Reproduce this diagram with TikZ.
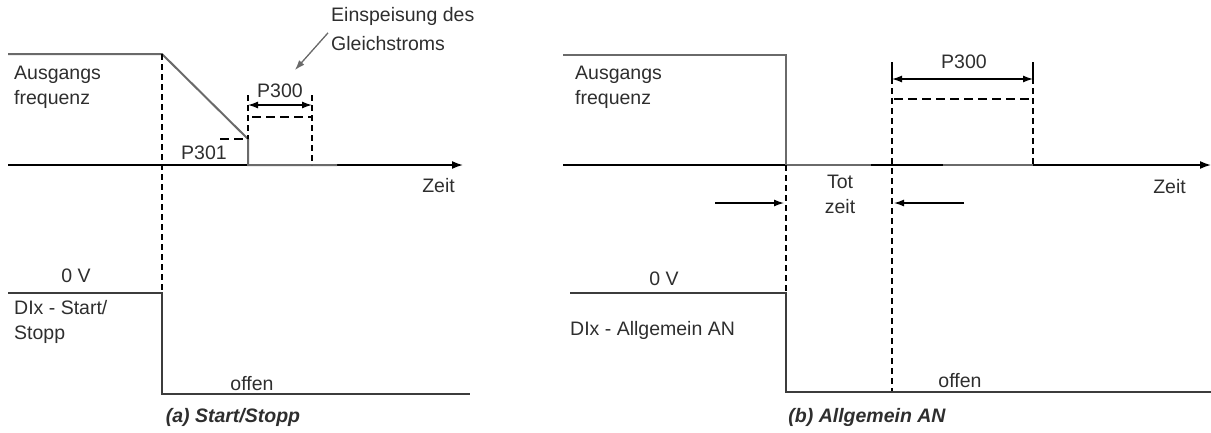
\documentclass[tikz,border=0pt]{standalone}
\usepackage{fontspec}
\setmainfont{Liberation Sans}
\usepackage{tikz}
\usetikzlibrary{arrows.meta}
\definecolor{wave}{HTML}{6A6A6A}
\definecolor{sig}{HTML}{3C3C3C}
\definecolor{char}{HTML}{2E2E2E}

\begin{document}
\begin{tikzpicture}[
  x=1pt, y=-1pt,
  font=\fontsize{19.5}{25}\selectfont,
  every node/.style={inner sep=0pt, color=char},
  lbl/.style={align=left, anchor=north west},
  axis/.style={-{Latex[length=11pt,width=8pt]}, line width=1.6pt, color=black},
  wav/.style={line width=2pt, color=wave},
  sigl/.style={line width=1.8pt, color=sig},
  guide/.style={dash pattern=on 6pt off 4pt, line width=1.2pt, color=black},
  dc/.style={dash pattern=on 9pt off 5pt, line width=2.6pt, color=black},
  dimarr/.style={{Latex[length=10pt,width=7pt]}-{Latex[length=10pt,width=7pt]}, line width=1.3pt},
  ptr/.style={-{Latex[length=10pt,width=7pt]}, line width=1.3pt},
  captxt/.style={font=\fontsize{19.5}{25}\selectfont\bfseries\itshape, anchor=base}
]
\useasboundingbox (0,0) rectangle (1211,432);

% ---------- (a) Start/Stopp ----------
% time axis
\coordinate (aAx0) at (8,165);
\coordinate (aAx1) at (463,165);
\draw[axis] (aAx0) -- (aAx1);
\node[anchor=base east] (aZeit) at (455,192) {Zeit};
% output frequency
\draw[wav] (8,54) -- (162,54) -- (248,139) -- (248,165) -- (337,165);
\node[lbl] (aFreq) at (14,66) {Ausgangs\\frequenz};
% P301 level
\draw[dc] (220,139) -- (248,139);
\node[anchor=base] (aP301) at (204,159) {P301};
% P300 (DC braking)
\draw[guide] (248,95) -- (248,139);
\draw[guide] (312,95) -- (312,165);
\coordinate (aP0) at (248,105);
\coordinate (aP1) at (312,105);
\draw[dimarr] (aP0) -- (aP1);
\node[anchor=base] (aP300) at (280,97) {P300};
\draw[dc] (252,117) -- (312,117);
% DC injection label
\node[lbl, font=\fontsize{19.5}{29}\selectfont] (aDC) at (331,7)
  {Einspeisung des\\Gleichstroms};
\coordinate (aDCtip) at (295,70);
\draw[ptr, color=wave] (aDC.west) ++(-3,4) -- (aDCtip);
% sync line
\draw[guide] (162,54) -- (162,293);
% digital input
\draw[sigl] (8,293) -- (162,293) -- (162,394) -- (470,394);
\node[anchor=base] (a0V) at (76,282) {0 V};
\node[lbl] (aDI) at (14,300) {DIx - Start/\\Stopp};
\node[anchor=base] (aOff) at (252,390) {offen};
\node[captxt] (aCap) at (233,422) {(a) Start/Stopp};

% ---------- (b) Allgemein AN ----------
% time axis
\coordinate (bAx0) at (563,165);
\coordinate (bAx1) at (1211,165);
\draw[axis] (bAx0) -- (bAx1);
\node[anchor=base east] (bZeit) at (1186,193) {Zeit};
% output frequency
\draw[wav] (563,55) -- (786,55) -- (786,165) -- (1033,165);
\draw[line width=2.4pt] (871,165) -- (943,165);
\node[lbl] (bFreq) at (575,66) {Ausgangs\\frequenz};
% P300 (DC braking)
\draw[line width=1.2pt] (892,62) -- (892,84);
\draw[line width=1.2pt] (1033,62) -- (1033,84);
\draw[guide] (1033,88) -- (1033,165);
\coordinate (bP0) at (892,79);
\coordinate (bP1) at (1033,79);
\draw[dimarr] (bP0) -- (bP1);
\node[anchor=base] (bP300) at (964,68) {P300};
\draw[dc] (894,99) -- (1033,99);
% sync lines
\draw[guide] (786,165) -- (786,293);
\draw[guide] (892,88) -- (892,392);
% dead time
\node[align=center, anchor=north, font=\fontsize{19.5}{25}\selectfont]
  (bTot) at (840,175) {Tot\\zeit};
\coordinate (bT0) at (715,203);
\coordinate (bT1) at (784,203);
\coordinate (bT2) at (964,203);
\coordinate (bT3) at (894,203);
\draw[ptr] (bT0) -- (bT1);
\draw[ptr] (bT2) -- (bT3);
% digital input
\draw[sigl] (570,293) -- (786,293) -- (786,392) -- (1211,392);
\node[anchor=base] (b0V) at (664,285) {0 V};
\node[anchor=base west] (bDI) at (570,335) {DIx - Allgemein AN};
\node[anchor=base] (bOff) at (960,387) {offen};
\node[captxt] (bCap) at (867,422) {(b) Allgemein AN};
\end{tikzpicture}
\end{document}
